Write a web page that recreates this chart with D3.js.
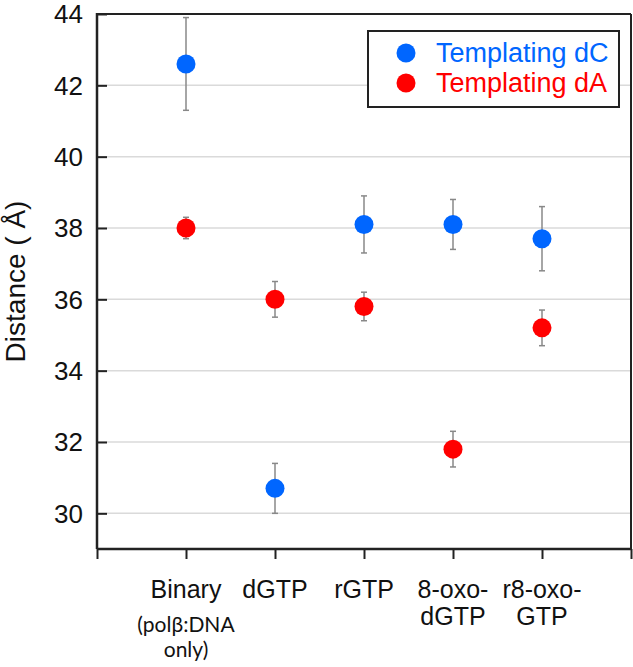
<!DOCTYPE html>
<html>
<head>
<meta charset="utf-8">
<script src="https://cdn.jsdelivr.net/npm/d3@7"></script>
<style>
  body { margin: 0; background: #fff; }
  svg { display: block; font-family: "Liberation Sans", Arial, sans-serif; }
</style>
</head>
<body>
<svg id="chart" width="633" height="667"></svg>
<script>
// ---- data ----
const categories = ["Binary", "dGTP", "rGTP", "8-oxo-dGTP", "r8-oxo-GTP"];
const categoryLines = [["Binary"], ["dGTP"], ["rGTP"], ["8-oxo-", "dGTP"], ["r8-oxo-", "GTP"]];
const categorySubLines = [["(polβ:DNA", "only)"], [], [], [], []];
const seriesNames = ["Templating dC", "Templating dA"];
const dCValues = [42.6, 30.7, 38.1, 38.1, 37.7];
const dCErrors = [1.3, 0.7, 0.8, 0.7, 0.9];
const dAValues = [38.0, 36.0, 35.8, 31.8, 35.2];
const dAErrors = [0.3, 0.5, 0.4, 0.5, 0.5];
const yTicks = [30, 32, 34, 36, 38, 40, 42, 44];
const yLabel = "Distance ( Å)";

const colors = ["#0066ff", "#ff0000"];

const svg = d3.select("#chart");
const mLeft = 97, mRight = 631, mTop = 14, mBottom = 549;

const x = d3.scaleLinear().domain([0, categories.length + 1]).range([mLeft, mRight]);
const y = d3.scaleLinear().domain([29, 44]).range([mBottom, mTop]);

// grid lines
svg.append("g").selectAll("line").data(yTicks.filter(t => t < 44)).join("line")
  .attr("x1", mLeft).attr("x2", mRight)
  .attr("y1", d => y(d)).attr("y2", d => y(d))
  .attr("stroke", "#dadada").attr("stroke-width", 1.5);

// y axis (inward ticks)
const yAxis = d3.axisRight(y).tickValues(yTicks).tickSize(10).tickFormat("");
const gy = svg.append("g").attr("transform", `translate(${mLeft},0)`).call(yAxis);
gy.select(".domain").remove();
gy.selectAll(".tick line").attr("stroke", "#222").attr("stroke-width", 2);
// y tick labels
svg.append("g").selectAll("text").data(yTicks).join("text")
  .attr("x", mLeft - 14).attr("y", d => y(d)).attr("dy", "0.36em")
  .attr("text-anchor", "end").attr("font-size", 26).attr("fill", "#111")
  .text(d => d);

// x axis (outward ticks incl. ends)
const xAxis = d3.axisBottom(x).tickValues(d3.range(0, categories.length + 2)).tickSize(10).tickFormat("");
const gx = svg.append("g").attr("transform", `translate(0,${mBottom})`).call(xAxis);
gx.select(".domain").remove();
gx.selectAll(".tick line").attr("stroke", "#222").attr("stroke-width", 2);

// frame
svg.append("line").attr("x1", mLeft).attr("x2", mLeft).attr("y1", mTop - 1).attr("y2", mBottom)
  .attr("stroke", "#222").attr("stroke-width", 2.5);
svg.append("line").attr("x1", mLeft).attr("x2", mRight).attr("y1", mBottom).attr("y2", mBottom)
  .attr("stroke", "#222").attr("stroke-width", 2.5);
svg.append("line").attr("x1", mLeft).attr("x2", mRight).attr("y1", mTop).attr("y2", mTop)
  .attr("stroke", "#222").attr("stroke-width", 2);
svg.append("line").attr("x1", mRight).attr("x2", mRight).attr("y1", mTop).attr("y2", mBottom)
  .attr("stroke", "#222").attr("stroke-width", 2);

// x labels
categories.forEach((c, i) => {
  const cx = x(i + 1);
  categoryLines[i].forEach((ln, j) => {
    svg.append("text").attr("x", cx).attr("y", 598 + j * 27)
      .attr("text-anchor", "middle").attr("font-size", 25).attr("fill", "#111").text(ln);
  });
  categorySubLines[i].forEach((ln, j) => {
    svg.append("text").attr("x", cx).attr("y", 632 + j * 25)
      .attr("text-anchor", "middle").attr("font-size", 21).attr("fill", "#111")
      .attr("font-family", "Lato, 'Noto Sans', sans-serif").text(ln);
  });
});

// y label
svg.append("text")
  .attr("transform", `translate(25,${(mTop + mBottom) / 2}) rotate(-90)`)
  .attr("text-anchor", "middle").attr("font-size", 28).attr("fill", "#111")
  .text(yLabel);

// series
const series = [
  { vals: dCValues, errs: dCErrors, color: colors[0] },
  { vals: dAValues, errs: dAErrors, color: colors[1] }
];
series.forEach(s => {
  const g = svg.append("g");
  const data = s.vals.map((v, i) => ({ i, v, e: s.errs[i] }));
  g.selectAll("line.eb").data(data).join("line").attr("class", "eb")
    .attr("x1", d => x(d.i + 1)).attr("x2", d => x(d.i + 1))
    .attr("y1", d => y(d.v - d.e)).attr("y2", d => y(d.v + d.e))
    .attr("stroke", "#888").attr("stroke-width", 1.5);
  ["lo", "hi"].forEach(k => {
    g.selectAll("line.cap" + k).data(data).join("line").attr("class", "cap" + k)
      .attr("x1", d => x(d.i + 1) - 3).attr("x2", d => x(d.i + 1) + 3)
      .attr("y1", d => y(k === "lo" ? d.v - d.e : d.v + d.e))
      .attr("y2", d => y(k === "lo" ? d.v - d.e : d.v + d.e))
      .attr("stroke", "#888").attr("stroke-width", 1.5);
  });
  g.selectAll("circle").data(data).join("circle")
    .attr("cx", d => x(d.i + 1)).attr("cy", d => y(d.v)).attr("r", 9.5)
    .attr("fill", s.color);
});

// legend
const lg = svg.append("g");
lg.append("rect").attr("x", 368).attr("y", 31).attr("width", 251).attr("height", 76)
  .attr("fill", "#fff").attr("stroke", "#222").attr("stroke-width", 2);
seriesNames.forEach((n, i) => {
  lg.append("circle").attr("cx", 406).attr("cy", 53 + i * 30).attr("r", 9.5).attr("fill", colors[i]);
  lg.append("text").attr("x", 436).attr("y", 62 + i * 30).attr("font-size", 27)
    .attr("fill", colors[i]).text(n);
});
</script>
</body>
</html>
